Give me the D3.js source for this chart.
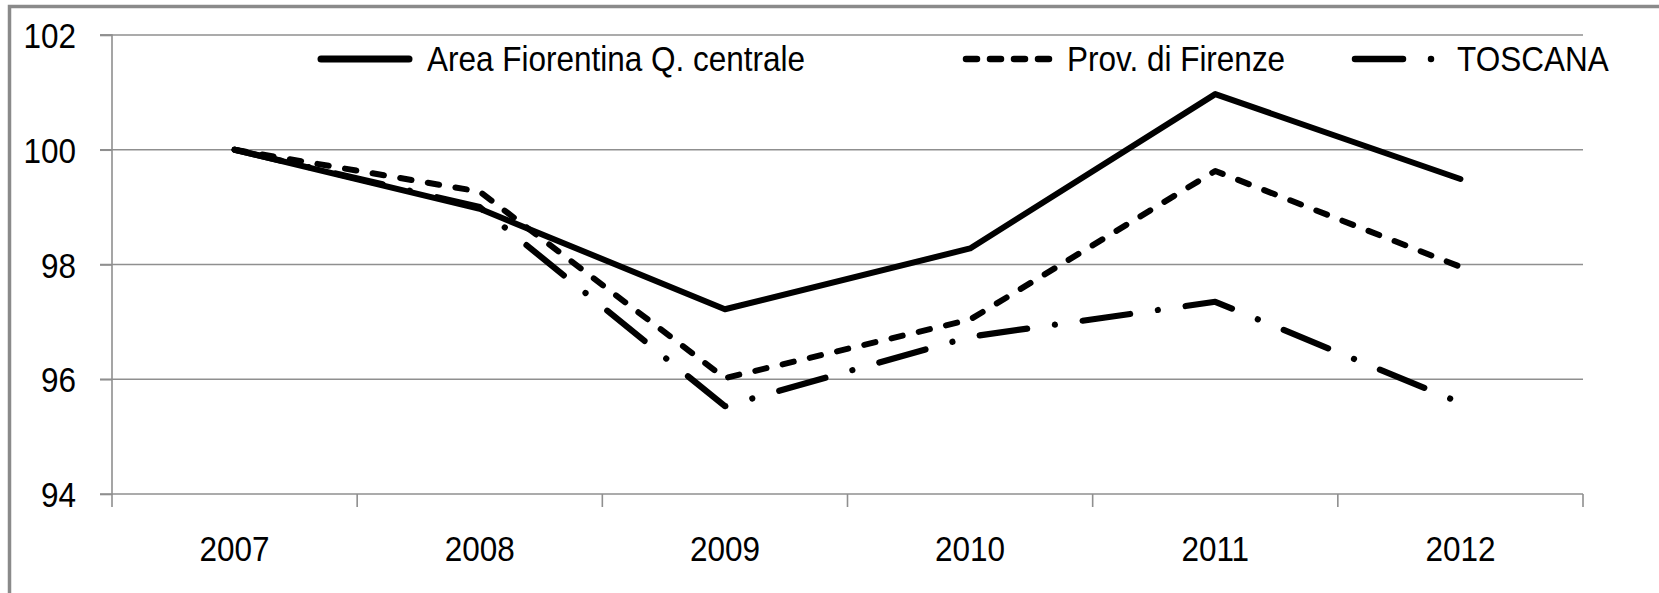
<!DOCTYPE html>
<html>
<head>
<meta charset="utf-8">
<script src="https://cdn.jsdelivr.net/npm/d3@7"></script>
<style>
  html, body { margin: 0; padding: 0; background: #fff; }
  svg { display: block; }
  text { font-family: "Liberation Sans", Arial, sans-serif; fill: #000; }
</style>
</head>
<body>
<svg id="chart" width="1659" height="593"></svg>
<script>
// ---- data ----
const years = ["2007", "2008", "2009", "2010", "2011", "2012"];
const areaFiorentina = [100, 98.97, 97.22, 98.28, 100.97, 99.49];
const provFirenze = [100, 99.27, 96.02, 97.04, 99.63, 97.96];
const toscana = [100, 99.0, 95.53, 96.74, 97.35, 95.59];
const yTicks = [94, 96, 98, 100, 102];
const seriesNames = ["Area Fiorentina Q. centrale", "Prov. di Firenze", "TOSCANA"];

(function () {
// ---- layout ----
const plotLeft = 112, plotRight = 1583, plotTop = 35, plotBottom = 494;
const fontSize = 35, squeeze = 0.9;
const svg = d3.select("#chart");

// outer frame
svg.append("rect")
  .attr("x", 9.5).attr("y", 6.5)
  .attr("width", 1700).attr("height", 700)
  .attr("fill", "none").attr("stroke", "#8a8a8a").attr("stroke-width", 3.5);

const x = d3.scaleBand().domain(years).range([plotLeft, plotRight]);
const y = d3.scaleLinear().domain([94, 102]).range([plotBottom, plotTop]);
const cx = d => x(d) + x.bandwidth() / 2;

const gridColor = "#8f8f8f";

// gridlines
svg.append("g").selectAll("line").data(yTicks.filter(v => v !== 94)).join("line")
  .attr("x1", plotLeft - 12).attr("x2", plotRight)
  .attr("y1", d => y(d)).attr("y2", d => y(d))
  .attr("stroke", gridColor).attr("stroke-width", 1.6);

// y axis
const yAxis = svg.append("g").attr("transform", `translate(${plotLeft},0)`)
  .call(d3.axisLeft(y).tickValues(yTicks).tickSize(12).tickPadding(24).tickFormat(d3.format("d")));
yAxis.select(".domain").attr("stroke", gridColor).attr("stroke-width", 1.6).attr("d", `M-12,${plotBottom}H0V${plotTop}H-12`);
yAxis.selectAll(".tick line").attr("stroke", gridColor).attr("stroke-width", 1.6);
yAxis.selectAll(".tick text").attr("font-size", fontSize).attr("font-family", "Liberation Sans, Arial, sans-serif").attr("fill", "#000").attr("dy", "0.36em");

// x axis
const xAxis = svg.append("g").attr("transform", `translate(0,${plotBottom})`)
  .call(d3.axisBottom(x).tickSize(0).tickPadding(42));
xAxis.select(".domain").attr("stroke", gridColor).attr("stroke-width", 1.6).attr("d", `M${plotLeft},0H${plotRight}`);
xAxis.selectAll(".tick text").attr("font-size", fontSize).attr("font-family", "Liberation Sans, Arial, sans-serif").attr("fill", "#000");
// category boundary ticks
const boundaries = years.map(d => x(d)).concat([plotRight]);
svg.append("g").selectAll("line").data(boundaries).join("line")
  .attr("x1", d => d).attr("x2", d => d)
  .attr("y1", plotBottom).attr("y2", plotBottom + 13)
  .attr("stroke", gridColor).attr("stroke-width", 1.6);

// series
const styles = [
  { dash: null, width: 6 },
  { dash: "11.5,16.5", width: 6 },
  { dash: "48,28,0.01,28", width: 6.2 }
];
const allSeries = [areaFiorentina, provFirenze, toscana];
const line = d3.line().x((d, i) => cx(years[i])).y(d => y(d));

allSeries.forEach((vals, k) => {
  svg.append("path")
    .datum(vals)
    .attr("d", line)
    .attr("fill", "none")
    .attr("stroke", "#000")
    .attr("stroke-width", styles[k].width)
    .attr("stroke-linecap", "round")
    .attr("stroke-linejoin", "round")
    .attr("stroke-dasharray", styles[k].dash);
});

// legend
const legendItems = [
  { x1: 321, x2: 409, tx: 427 },
  { x1: 966, x2: 1058, tx: 1067 },
  { x1: 1355, x2: 1434, tx: 1457 }
];
const leg = svg.append("g");
legendItems.forEach((it, k) => {
  leg.append("line")
    .attr("x1", it.x1).attr("x2", it.x2).attr("y1", 59).attr("y2", 59)
    .attr("stroke", "#000").attr("stroke-width", k === 0 ? 7 : 6.5)
    .attr("stroke-linecap", "round")
    .attr("stroke-dasharray", k === 0 ? null : (k === 1 ? "11,13" : "48,28,0.01,28"));
  leg.append("text")
    .attr("x", it.tx).attr("y", 71)
    .attr("font-size", fontSize)
    .text(seriesNames[k]);
});

// condense all text horizontally around its anchor
svg.selectAll("text").each(function () {
  const t = d3.select(this);
  const tx = +t.attr("x") || 0;
  t.attr("transform", `translate(${tx * (1 - squeeze)},0) scale(${squeeze},1)`);
});
})();
</script>
</body>
</html>
